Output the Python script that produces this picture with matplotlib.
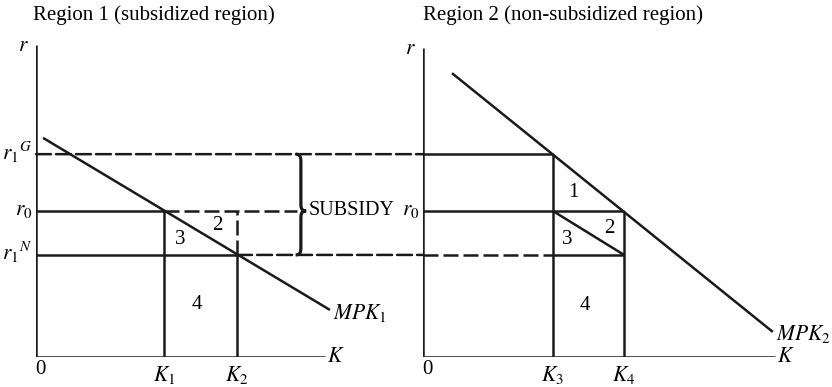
import matplotlib
matplotlib.use("Agg")
import matplotlib.pyplot as plt
from matplotlib.patches import ConnectionPatch, PathPatch
from matplotlib.path import Path

plt.rcParams['font.family'] = ['Liberation Serif', 'DejaVu Serif']
plt.rcParams['mathtext.fontset'] = 'stix'

# ---- data (arbitrary units) ----
r_levels = {"r1G": 4.61, "r0": 3.32, "r1N": 2.32}
k_left = [2.91, 4.57]     # K1, K2
k_right = [2.95, 4.57]    # K3, K4
mpk1_K = [0.16, 6.68]
mpk1_r = [4.98, 1.07]
mpk2_K = [0.66, 7.95]
mpk2_r = [6.45, 0.57]
axis_left = (6.57, 7.09)   # x-axis end, y-axis top
axis_right = (8.0, 7.02)
area_labels_left = ["2", "3", "4"]
area_pos_left = [(4.11, 2.98), (3.27, 2.66), (3.66, 1.20)]
area_labels_right = ["1", "2", "3", "4"]
area_pos_right = [(3.41, 3.73), (4.23, 2.93), (3.27, 2.68), (3.68, 1.18)]

W, H, DPI = 832, 387, 100
PX = 44.0  # pixels per unit
fig = plt.figure(figsize=(W / DPI, H / DPI), dpi=DPI)

def make_ax(x0, y0, xmax, ymax):
    ax = fig.add_axes([x0 / W, (H - y0) / H, xmax * PX / W, ymax * PX / H])
    ax.set_xlim(0, xmax)
    ax.set_ylim(0, ymax)
    ax.axis("off")
    return ax

axL = make_ax(36, 357, 8.7, 7.4)
axR = make_ax(423, 357, 9.0, 7.4)

LW = 1.8
DASH = (0, (6.0, 2.0))
FS = 15
MFS = 15.5
kw = dict(color="#1a1a1a", lw=LW, solid_capstyle="butt")
dkw = dict(color="#1a1a1a", lw=LW, ls=DASH)

r1G, r0, r1N = r_levels["r1G"], r_levels["r0"], r_levels["r1N"]
K1, K2 = k_left
K3, K4 = k_right

# ---- left panel ----
axL.plot([0, 0], [0, axis_left[1]], **kw)
axL.plot([0, axis_left[0]], [0, 0], **kw)
axL.plot(mpk1_K, mpk1_r, **kw)
axL.plot([0, K1], [r0, r0], **kw)
axL.plot([0, K2], [r1N, r1N], **kw)
axL.plot([K1, K1], [0, r0], **kw)
axL.plot([K2, K2], [0, r1N], **kw)
axL.plot([K2, K2], [r1N, r0], **dkw)
brace_x = 5.93
axL.plot([K1, brace_x], [r0, r0], **dkw)

# brace
xl, xm, xt = 5.90, 6.02, 6.14
h = 0.09
verts = [(xl, r1G), (xm, r1G), (xm, r1G - h), (xm, r1G - 2 * h),
         (xm, r0 + 2 * h),
         (xm, r0 + h), (xm, r0), (xt, r0),
         (xm, r0), (xm, r0 - h), (xm, r0 - 2 * h),
         (xm, r1N + 2 * h),
         (xm, r1N + h), (xm, r1N), (xl, r1N)]
codes = [Path.MOVETO, Path.CURVE4, Path.CURVE4, Path.CURVE4,
         Path.LINETO,
         Path.CURVE4, Path.CURVE4, Path.CURVE4,
         Path.CURVE4, Path.CURVE4, Path.CURVE4,
         Path.LINETO,
         Path.CURVE4, Path.CURVE4, Path.CURVE4]
axL.add_patch(PathPatch(Path(verts, codes), fill=False, lw=2.3, color="#1a1a1a", clip_on=False))
axL.text(6.2, r0, "SUBSIDY", fontsize=14.5, ha="left", va="center")

# ---- right panel ----
axR.plot([0, 0], [0, axis_right[1]], **kw)
axR.plot([0, axis_right[0]], [0, 0], **kw)
axR.plot(mpk2_K, mpk2_r, **kw)
axR.plot([0, K3], [r1G, r1G], **kw)
axR.plot([0, K4], [r0, r0], **kw)
axR.plot([K3, K4], [r1N, r1N], **kw)
axR.plot([0, K3], [r1N, r1N], **dkw)
axR.plot([K3, K3], [0, r1G], **kw)
axR.plot([K4, K4], [0, r0], **kw)
axR.plot([K3, K4], [r0, r1N], **kw)

# cross-panel dashed lines
for (xa, ya, xb, yb) in [(0, r1G, 0, r1G), (K2, r1N, 0, r1N)]:
    cp = ConnectionPatch(xyA=(xa, ya), coordsA=axL.transData,
                         xyB=(xb, yb), coordsB=axR.transData,
                         color="#1a1a1a", lw=LW, linestyle=DASH)
    fig.add_artist(cp)

# ---- labels ----
fig.text(33 / W, 1 - 15 / H, "Region 1 (subsidized region)", fontsize=FS, ha="left", va="center")
fig.text(423 / W, 1 - 15 / H, "Region 2 (non-subsidized region)", fontsize=FS, ha="left", va="center")

for ax, ax_ext, mlabel, mpos in [
        (axL, axis_left, r"$MPK_1$", (6.75, 1.0)),
        (axR, axis_right, r"$MPK_2$", (8.02, 0.52))]:
    ax.text(-0.28, ax_ext[1] - 0.04, r"$r$", fontsize=MFS, ha="center", va="center")
    ax.text(ax_ext[0] + 0.05, 0.0, r"$K$", fontsize=MFS, ha="left", va="center")
    ax.text(0.1, -0.28, "0", fontsize=FS, ha="center", va="center")
    ax.text(mpos[0], mpos[1], mlabel, fontsize=MFS, ha="left", va="center")

axL.text(-0.08, r1G + 0.05, r"$r_1{}^G$", fontsize=MFS, ha="right", va="center")
axL.text(-0.08, r0, r"$r_0$", fontsize=MFS, ha="right", va="center")
axL.text(-0.08, r1N + 0.05, r"$r_1{}^N$", fontsize=MFS, ha="right", va="center")
axR.text(-0.07, r0, r"$r_0$", fontsize=MFS, ha="right", va="center")

for ax, ks, names in [(axL, k_left, ["K_1", "K_2"]), (axR, k_right, ["K_3", "K_4"])]:
    for k, n in zip(ks, names):
        ax.text(k, -0.16, f"${n}$", fontsize=MFS, ha="center", va="top")

for ax, labs, pos in [(axL, area_labels_left, area_pos_left), (axR, area_labels_right, area_pos_right)]:
    for t, (x, y) in zip(labs, pos):
        ax.text(x, y, t, fontsize=FS, ha="center", va="center")

fig.savefig("out.png", dpi=DPI)
